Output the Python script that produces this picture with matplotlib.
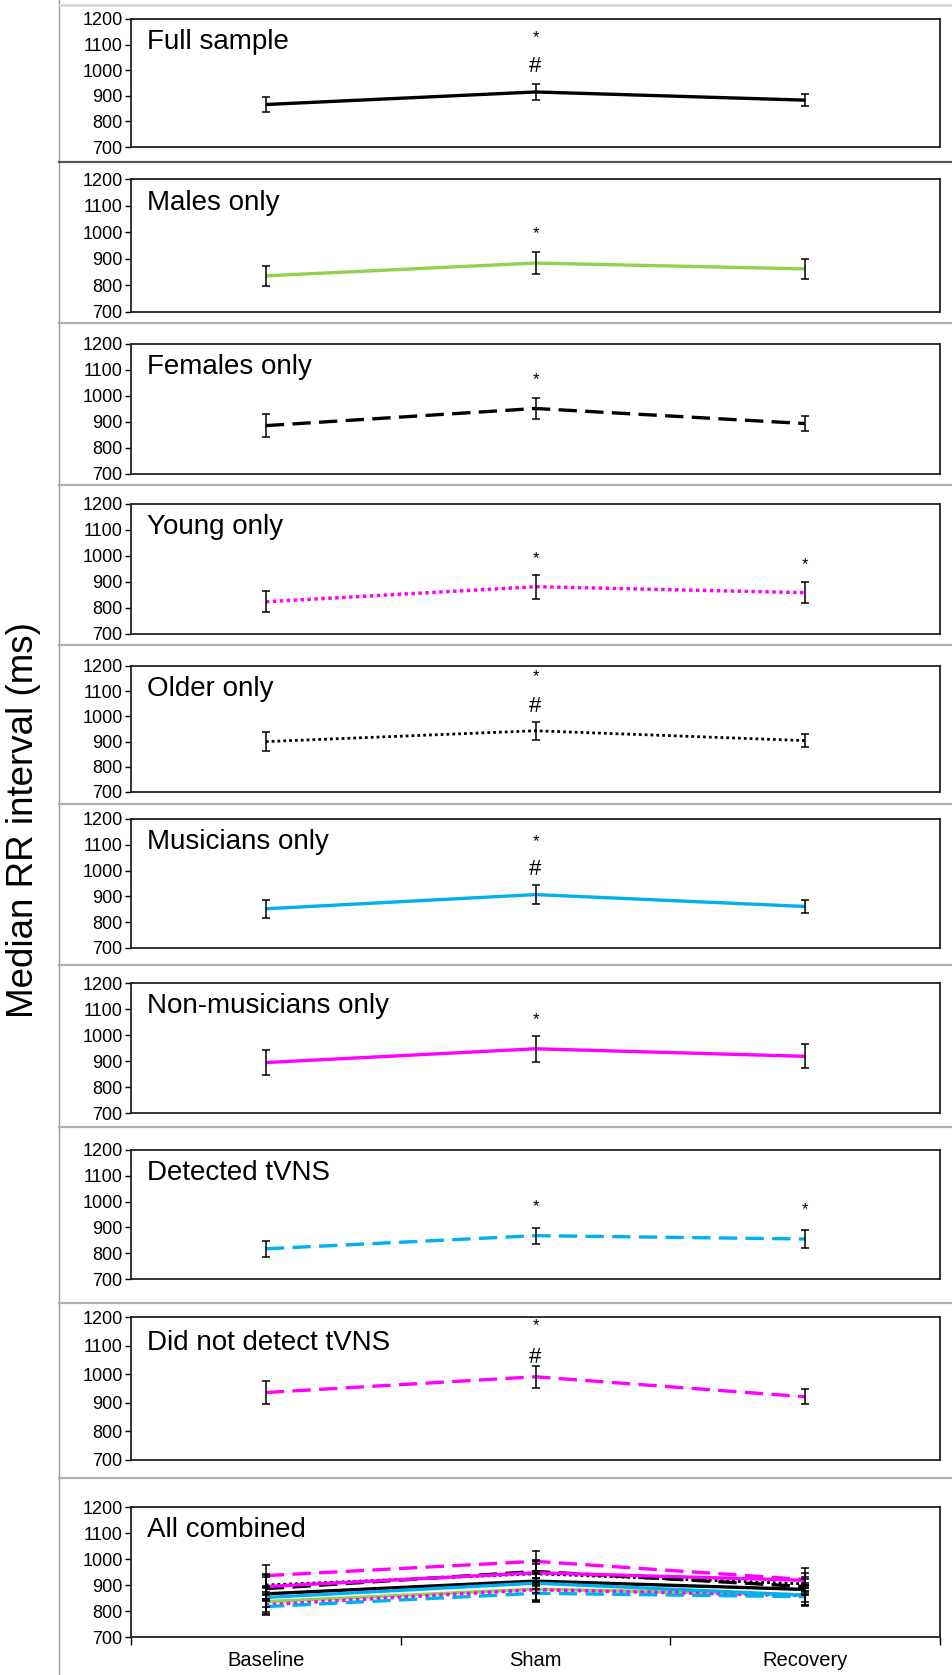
import matplotlib
matplotlib.use("Agg")
import matplotlib.pyplot as plt
from matplotlib.lines import Line2D

plt.rcParams['font.family'] = ['Liberation Sans', 'DejaVu Sans']

# ---------------- data ----------------
categories = ["Baseline", "Sham", "Recovery"]
panel_names = ["Full sample", "Males only", "Females only", "Young only", "Older only",
               "Musicians only", "Non-musicians only", "Detected tVNS", "Did not detect tVNS"]
full_sample = [866, 915, 883]
full_sample_err = [28, 32, 23]
males = [836, 884, 862]
males_err = [38, 42, 37]
females = [886, 952, 894]
females_err = [43, 42, 29]
young = [824, 882, 859]
young_err = [41, 46, 41]
older = [900, 943, 904]
older_err = [37, 36, 26]
musicians = [852, 907, 861]
musicians_err = [35, 37, 26]
non_musicians = [894, 947, 918]
non_musicians_err = [48, 50, 46]
detected = [817, 868, 855]
detected_err = [30, 31, 33]
not_detected = [936, 991, 921]
not_detected_err = [40, 39, 26]
yticks = [700, 800, 900, 1000, 1100, 1200]
# significance markers: (panel index, category index, symbol, y value)
markers = [(0, 1, "*", 1128), (0, 1, "#", 1013),
           (1, 1, "*", 994),
           (2, 1, "*", 1064),
           (3, 1, "*", 991), (3, 2, "*", 965),
           (4, 1, "*", 1157), (4, 1, "#", 1038),
           (5, 1, "*", 1113), (5, 1, "#", 1004),
           (6, 1, "*", 1059),
           (7, 1, "*", 979), (7, 2, "*", 967),
           (8, 1, "*", 1171), (8, 1, "#", 1060)]

series = [full_sample, males, females, young, older, musicians, non_musicians, detected, not_detected]
errors = [full_sample_err, males_err, females_err, young_err, older_err, musicians_err,
          non_musicians_err, detected_err, not_detected_err]

GREEN = "#92D050"
CYAN = "#00B0F0"
MAG = "#FF00FF"
styles = [
    dict(color="black", ls="-", lw=2.4),
    dict(color=GREEN, ls="-", lw=2.4),
    dict(color="black", ls=(0, (5.5, 2.5)), lw=2.4),
    dict(color=MAG, ls=(0, (1, 1)), lw=2.5),
    dict(color="black", ls=(0, (1, 1.1)), lw=2.0),
    dict(color=CYAN, ls="-", lw=2.4),
    dict(color=MAG, ls="-", lw=2.4),
    dict(color=CYAN, ls=(0, (5.5, 2.5)), lw=2.4),
    dict(color=MAG, ls=(0, (5.5, 2.5)), lw=2.4),
]

# ---------------- layout (pixels) ----------------
W, H = 952, 1675
fig = plt.figure(figsize=(W / 100, H / 100), dpi=100)
fig.patch.set_facecolor("white")

left_px, right_px = 131, 940
tops = [19, 179, 344, 504, 666, 819, 983, 1150, 1317, 1507]
bottoms = [147, 312, 474, 634, 792, 948, 1113, 1279, 1460, 1637]
separators = [162, 323, 485, 645, 804, 965, 1127, 1303, 1478]

# frame lines of the figure
fig.add_artist(Line2D([59 / W, 59 / W], [0, 1], transform=fig.transFigure, color="#9a9a9a", lw=1.0))
fig.add_artist(Line2D([59 / W, 1], [1 - 5 / H, 1 - 5 / H], transform=fig.transFigure, color="#d8d8d8", lw=2.0))
for i, s in enumerate(separators):
    col = "#555555" if i == 0 else "#b0b0b0"
    fig.add_artist(Line2D([59 / W, 1], [1 - s / H, 1 - s / H], transform=fig.transFigure, color=col, lw=1.6))

x = [0.5, 1.5, 2.5]
titles = panel_names + ["All combined"]
axes = []
for i in range(10):
    t, b = tops[i], bottoms[i]
    ax = fig.add_axes([left_px / W, 1 - b / H, (right_px - left_px) / W, (b - t) / H])
    axes.append(ax)
    ax.set_xlim(0, 3)
    ax.set_ylim(700, 1200)
    ax.set_yticks(yticks)
    ax.set_yticklabels([str(v) for v in yticks], fontsize=13)
    ax.tick_params(axis="y", direction="out", length=4, width=1, pad=2)
    for sp in ax.spines.values():
        sp.set_linewidth(1.3)
        sp.set_color("#222222")
    if i < 9:
        ax.set_xticks([])
        idxs = [i]
    else:
        ax.set_xticks([0, 1, 2, 3])
        ax.set_xticklabels([])
        ax.set_xticks(x, minor=True)
        ax.set_xticklabels(categories, minor=True, fontsize=14.5)
        ax.tick_params(axis="x", which="major", direction="out", length=6, width=1)
        ax.tick_params(axis="x", which="minor", length=0, pad=10)
        idxs = list(range(9))
    for j in idxs:
        st = styles[j]
        ax.plot(x, series[j], color=st["color"], linestyle=st["ls"], lw=st["lw"], zorder=3,
                solid_capstyle="butt", dash_capstyle="butt")
        ax.errorbar(x, series[j], yerr=errors[j], fmt="none", ecolor="black", elinewidth=1.1,
                    capsize=3, capthick=1.1, zorder=4)
    ax.text(0.02, 0.82, titles[i], transform=ax.transAxes, fontsize=20, ha="left", va="center")

for (p, c, sym, yv) in markers:
    fs = 12 if sym == "*" else 16
    axes[p].text(x[c], yv, sym, ha="center", va="center", fontsize=fs, color="black")

fig.text(24 / W, 1 - 820 / H, "Median RR interval (ms)", rotation=90, ha="center", va="center", fontsize=26.5)

fig.savefig("out.png", dpi=100)
